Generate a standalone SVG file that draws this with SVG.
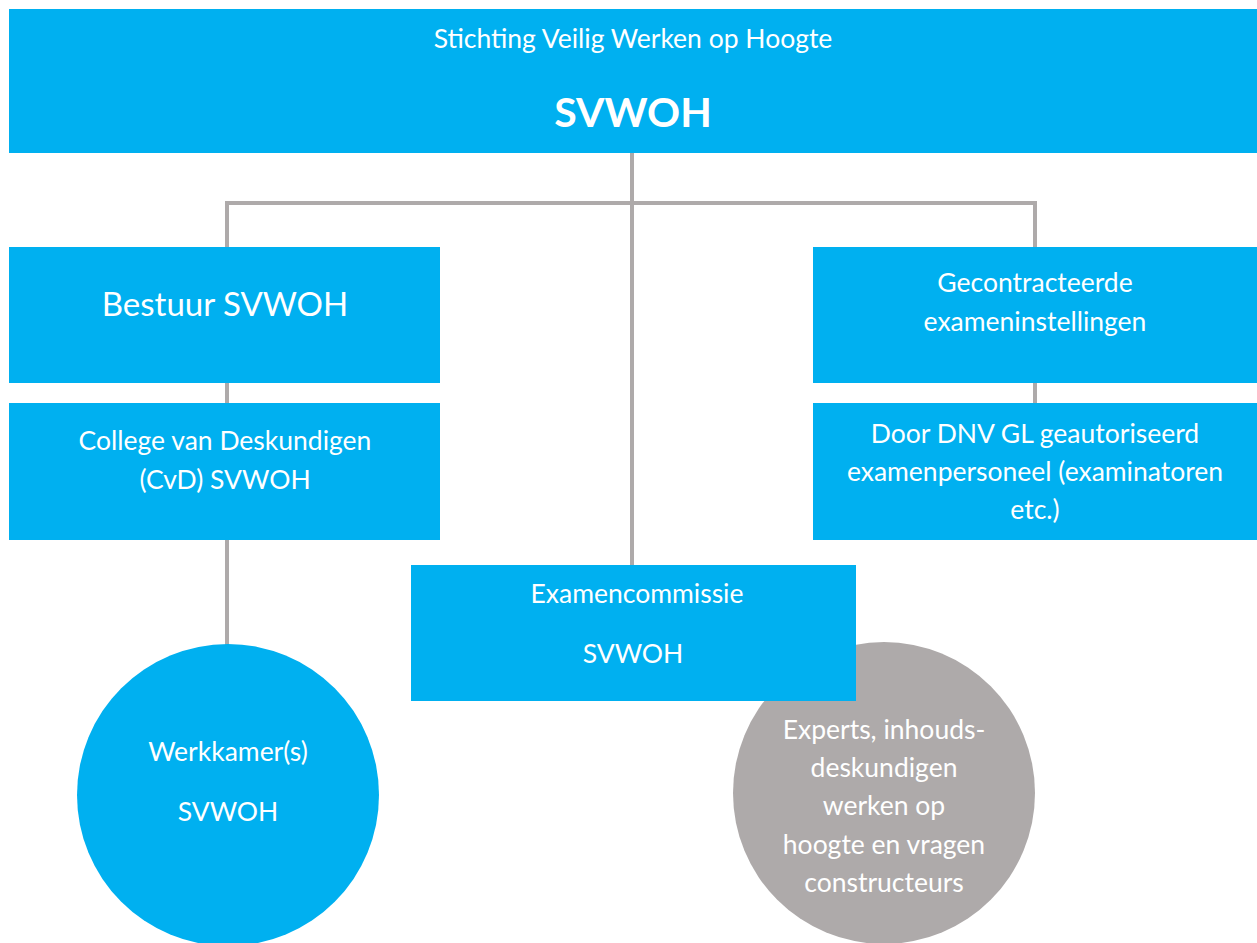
<svg xmlns="http://www.w3.org/2000/svg" width="1257" height="943" viewBox="0 0 1257 943">
<style>
.box{fill:#00B0F0}
.circ-blue{fill:#00B0F0}
.circ-gray{fill:#AEAAAA}
.conn{stroke:#AEAAAA;stroke-width:4;fill:none}
text{font-family:Lato,"Liberation Sans",sans-serif;fill:#FFFFFF;text-anchor:middle;font-size:26.5px}
.big{font-size:33px}
.title{font-size:41px;font-weight:bold}
</style>
<rect width="1257" height="943" fill="#FFFFFF"/>
<g id="connectors">
<path class="conn" d="M632 153 V565"/>
<path class="conn" d="M227 247 V203 H1035 V247"/>
<path class="conn" d="M227 383 V403"/>
<path class="conn" d="M227 540 V645"/>
<path class="conn" d="M1035 383 V403"/>
</g>
<g id="top">
<rect class="box" x="9" y="9" width="1248" height="144"/>
<text x="633" y="48">Stichting Veilig Werken op Hoogte</text>
<text class="title" x="633" y="127">SVWOH</text>
</g>
<g id="bestuur">
<rect class="box" x="9" y="247" width="431" height="136"/>
<text class="big" x="225" y="316">Bestuur SVWOH</text>
</g>
<g id="college">
<rect class="box" x="9" y="403" width="431" height="137"/>
<text x="225" y="450">College van Deskundigen</text>
<text x="225" y="489">(CvD) SVWOH</text>
</g>
<g id="gecontracteerde">
<rect class="box" x="813" y="247" width="444" height="136"/>
<text x="1035" y="292">Gecontracteerde</text>
<text x="1035" y="331">exameninstellingen</text>
</g>
<g id="dnv">
<rect class="box" x="813" y="403" width="444" height="137"/>
<text x="1035" y="443">Door DNV GL geautoriseerd</text>
<text x="1035" y="481">examenpersoneel (examinatoren</text>
<text x="1035" y="519">etc.)</text>
</g>
<g id="werkkamer">
<circle class="circ-blue" cx="228" cy="795" r="151"/>
<text x="228" y="761">Werkkamer(s)</text>
<text x="228" y="821">SVWOH</text>
</g>
<g id="experts">
<circle class="circ-gray" cx="884" cy="793" r="151"/>
<text x="884" y="739">Experts, inhouds-</text>
<text x="884" y="777">deskundigen</text>
<text x="884" y="815">werken op</text>
<text x="884" y="854">hoogte en vragen</text>
<text x="884" y="892">constructeurs</text>
</g>
<g id="examencommissie">
<rect class="box" x="411" y="565" width="445" height="136"/>
<text x="637" y="603">Examencommissie</text>
<text x="633" y="663">SVWOH</text>
</g>
</svg>
